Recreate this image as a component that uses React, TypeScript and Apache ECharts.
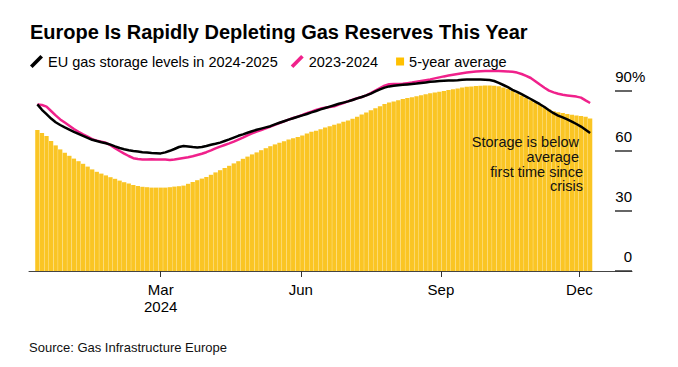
import React, { useEffect, useRef } from 'react';
import * as echarts from 'echarts';

const FONT = '"Liberation Sans", Arial, Helvetica, sans-serif';

const TITLE = 'Europe Is Rapidly Depleting Gas Reserves This Year';
const SOURCE = 'Source: Gas Infrastructure Europe';
const NAME_CURRENT = 'EU gas storage levels in 2024-2025';
const NAME_PREVIOUS = '2023-2024';
const NAME_AVERAGE = '5-year average';
const NOTE_1 = 'Storage is below\naverage';
const NOTE_2 = 'first time since\ncrisis';

// daily category axis
const AXIS_START = '2023-12-06';
const AXIS_DAYS = 396;
// readings are taken every 3 days from this date
const SAMPLE_START = '2023-12-11';
const SAMPLE_STEP_DAYS = 3;

const TICK_DATES = ['2024-03-01', '2024-06-01', '2024-09-01', '2024-12-01'];
const TICK_LABELS = ['Mar\n2024', 'Jun', 'Sep', 'Dec'];
const Y_MIN = 0;
const Y_MAX = 90;
const Y_INTERVAL = 30;

// % full, EU gas storage
const storage2425 = [
  83.3, 80.6, 78.4, 76.2, 74.4, 73.0, 71.8, 70.7, 69.6, 68.6,
  67.6, 66.6, 65.6, 65.0, 64.4, 63.9, 63.2, 62.3, 61.5, 60.9,
  60.4, 60.0, 59.7, 59.4, 59.2, 59.0, 58.9, 58.8, 59.3, 60.1,
  61.0, 62.0, 62.5, 62.3, 62.0, 61.8, 62.0, 62.5, 63.1, 63.6,
  64.2, 65.0, 65.8, 66.7, 67.6, 68.3, 69.1, 69.9, 70.6, 71.2,
  71.8, 72.4, 73.3, 74.1, 74.9, 75.7, 76.4, 77.1, 77.8, 78.5,
  79.3, 80.0, 80.8, 81.5, 82.2, 82.9, 83.6, 84.2, 84.8, 85.5,
  86.3, 87.0, 87.8, 88.7, 89.8, 90.8, 91.7, 92.3, 92.6, 92.9,
  93.1, 93.3, 93.5, 93.7, 94.0, 94.3, 94.6, 94.8, 95.0, 95.1,
  95.2, 95.3, 95.4, 95.6, 95.7, 95.7, 95.7, 95.7, 95.6, 95.5,
  95.0, 94.1, 93.0, 91.9, 90.6, 89.6, 88.4, 87.2, 86.0, 84.7,
  83.4, 82.0, 80.4, 78.9, 77.7, 76.8, 75.8, 74.7, 73.5, 72.2,
  70.6, 69.0,
];

const storage2324 = [
  83.3, 83.0, 82.2, 80.0, 77.8, 75.8, 74.2, 72.6, 71.0, 69.6,
  68.3, 67.2, 65.9, 65.2, 64.7, 64.1, 62.9, 61.4, 60.0, 58.7,
  57.5, 56.4, 56.0, 55.8, 55.8, 55.9, 55.8, 55.8, 55.7, 55.5,
  55.7, 56.1, 56.5, 56.9, 57.4, 58.0, 58.6, 59.4, 60.3, 61.3,
  62.2, 63.0, 63.8, 64.7, 65.7, 66.7, 67.8, 68.8, 69.7, 70.5,
  71.3, 72.2, 73.1, 74.0, 74.8, 75.7, 76.5, 77.2, 78.0, 78.9,
  79.7, 80.5, 81.2, 81.6, 82.0, 82.4, 83.2, 84.0, 84.8, 85.6,
  86.4, 87.0, 87.8, 88.9, 90.2, 91.5, 92.7, 93.4, 93.5, 93.5,
  93.6, 93.9, 94.2, 94.6, 95.0, 95.4, 95.8, 96.3, 96.8, 97.3,
  97.7, 98.1, 98.5, 98.9, 99.2, 99.5, 99.7, 99.9, 100.0, 100.0,
  100.0, 100.0, 99.9, 99.8, 99.6, 99.2, 98.5, 97.6, 96.5, 94.9,
  93.2, 91.6, 90.2, 89.3, 88.6, 88.1, 87.8, 87.5, 87.2, 86.7,
  85.3, 84.0,
];

const fiveYearAvg = [
  70.5, 69.0, 67.5, 65.0, 62.8, 60.8, 59.1, 57.6, 56.2, 54.9,
  53.6, 52.2, 50.8, 49.6, 48.7, 47.8, 46.9, 46.1, 45.2, 44.4,
  43.7, 43.0, 42.5, 42.1, 41.9, 41.7, 41.7, 41.7, 41.7, 41.9,
  42.2, 42.4, 42.7, 43.6, 44.5, 45.4, 46.2, 47.0, 48.1, 49.3,
  50.4, 51.5, 52.6, 53.8, 54.9, 56.1, 57.2, 58.3, 59.3, 60.4,
  61.4, 62.4, 63.3, 64.1, 64.9, 65.7, 66.4, 67.0, 67.8, 68.8,
  69.6, 70.1, 70.9, 71.7, 72.4, 73.1, 73.8, 74.6, 75.3, 76.1,
  77.1, 78.2, 79.3, 80.4, 81.4, 82.4, 83.5, 84.3, 84.8, 85.4,
  86.0, 86.5, 86.9, 87.4, 87.9, 88.4, 88.9, 89.2, 89.6, 90.0,
  90.5, 90.9, 91.3, 91.7, 92.1, 92.3, 92.5, 92.6, 92.7, 92.7,
  92.6, 92.4, 91.8, 91.1, 90.1, 88.9, 87.8, 86.6, 85.4, 84.2,
  83.1, 81.8, 80.7, 79.9, 79.4, 79.0, 78.5, 78.1, 77.8, 77.5,
  77.1, 76.2,
];

function addDays(iso: string, n: number): string {
  const d = new Date(iso + 'T00:00:00Z');
  d.setUTCDate(d.getUTCDate() + n);
  return d.toISOString().slice(0, 10);
}

const axisDates: string[] = Array.from({ length: AXIS_DAYS }, (_, i) => addDays(AXIS_START, i));
const sampleDate = (i: number) => addDays(SAMPLE_START, i * SAMPLE_STEP_DAYS);
const pairs = (vals: number[]) => vals.map((v, i) => [sampleDate(i), v]);

export default function App() {
  const ref = useRef<HTMLDivElement>(null);

  useEffect(() => {
    if (!ref.current) return;
    const chart = echarts.init(ref.current, undefined, { renderer: 'svg' });
    const isTick = (_idx: number, value: string) => TICK_DATES.indexOf(value) >= 0;

    chart.setOption({
      animation: false,
      backgroundColor: '#ffffff',
      textStyle: { fontFamily: FONT },
      title: {
        text: TITLE,
        left: 30,
        top: 22,
        padding: 0,
        textStyle: { fontSize: 20, fontWeight: 'bold', color: '#000', fontFamily: FONT },
      },
      legend: {
        left: 30,
        top: 54,
        padding: 0,
        itemWidth: 13,
        itemHeight: 13,
        itemGap: 13,
        textStyle: { fontSize: 14.5, color: '#000', fontFamily: FONT },
        itemStyle: { borderWidth: 0 },
        data: [
          { name: NAME_CURRENT, icon: 'path://M0,10 L10,0 L12.5,2.5 L2.5,12.5 Z', itemStyle: { color: '#000000' } },
          { name: NAME_PREVIOUS, icon: 'path://M0,10 L10,0 L12.5,2.5 L2.5,12.5 Z', itemStyle: { color: '#F0218B' } },
          { name: NAME_AVERAGE, icon: 'path://M0,0 M5,2.5 L13,2.5 L13,10.5 L5,10.5 Z M13,13', itemStyle: { color: '#FFC000' } },
        ],
      },
      grid: { left: 29, right: 46, top: 91, bottom: 96, containLabel: false },
      xAxis: {
        type: 'category',
        data: axisDates,
        boundaryGap: true,
        axisLine: { show: true, lineStyle: { color: '#444', width: 1 } },
        axisTick: { show: true, interval: isTick, alignWithLabel: true, length: 6, lineStyle: { color: '#333', width: 1 } },
        axisLabel: {
          interval: isTick,
          formatter: (value: string) => {
            const k = TICK_DATES.indexOf(value);
            return k >= 0 ? TICK_LABELS[k] : '';
          },
          fontSize: 15,
          lineHeight: 17.5,
          color: '#000',
          margin: 9.5,
          fontFamily: FONT,
        },
        splitLine: { show: false },
      },
      yAxis: {
        type: 'value',
        position: 'right',
        min: Y_MIN,
        max: Y_MAX,
        interval: Y_INTERVAL,
        axisLine: { show: false },
        splitLine: { show: false },
        axisTick: { show: true, inside: true, length: 17, lineStyle: { color: '#333', width: 1.5 } },
        axisLabel: {
          inside: true,
          margin: 17,
          align: 'left',
          verticalAlign: 'bottom',
          padding: [0, 0, 7, 0],
          fontSize: 15,
          color: '#000',
          fontFamily: FONT,
          formatter: (v: number) => (v === Y_MAX ? `{n|${v}}%` : `{n|${v}}`),
          rich: { n: { width: 17, align: 'right', fontSize: 15, fontFamily: FONT, color: '#000' } },
        },
      },
      series: [
        {
          name: NAME_AVERAGE,
          type: 'bar',
          data: pairs(fiveYearAvg),
          barWidth: 4.3,
          clip: false,
          itemStyle: { color: '#FAC524' },
          z: 1,
        },
        {
          name: NAME_PREVIOUS,
          type: 'line',
          data: pairs(storage2324),
          showSymbol: false,
          symbol: 'none',
          clip: false,
          lineStyle: { color: '#F0218B', width: 2.5 },
          itemStyle: { color: '#F0218B' },
          z: 2,
        },
        {
          name: NAME_CURRENT,
          type: 'line',
          data: pairs(storage2425),
          showSymbol: false,
          symbol: 'none',
          clip: false,
          lineStyle: { color: '#000000', width: 2.5 },
          itemStyle: { color: '#000000' },
          z: 3,
        },
      ],
      graphic: [
        {
          type: 'text',
          x: 579,
          y: 134.5,
          z: 10,
          style: { text: NOTE_1, align: 'right', verticalAlign: 'top', fontSize: 14.5, lineHeight: 15, fill: '#111', fontFamily: FONT },
        },
        {
          type: 'text',
          x: 583,
          y: 164.5,
          z: 10,
          style: { text: NOTE_2, align: 'right', verticalAlign: 'top', fontSize: 14.5, lineHeight: 14.5, fill: '#111', fontFamily: FONT },
        },
        {
          type: 'text',
          x: 29,
          y: 347,
          style: { text: SOURCE, align: 'left', verticalAlign: 'middle', fontSize: 13, fill: '#111', fontFamily: FONT },
        },
      ],
    });
    return () => chart.dispose();
  }, []);

  return (
    <div
      ref={ref}
      style={{ position: 'absolute', left: 0, top: 0, width: 678, height: 367, background: '#fff' }}
    />
  );
}
